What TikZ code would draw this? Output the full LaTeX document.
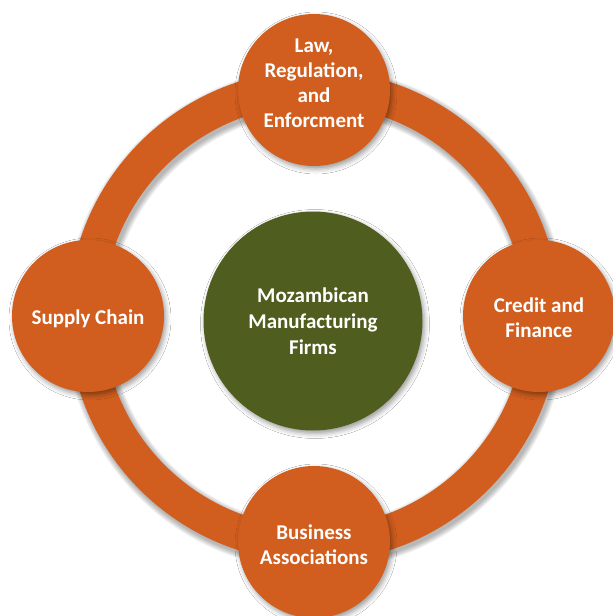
\documentclass[tikz,border=0pt]{standalone}
\usepackage{fontspec}
\setmainfont{Carlito}
\usetikzlibrary{shadows.blur}
\definecolor{ringorange}{RGB}{209,94,30}
\definecolor{hubgreen}{RGB}{79,94,30}
\begin{document}
\begin{tikzpicture}[x=1pt,y=-1pt,
  softshadow/.style={blur shadow={shadow xshift=2pt, shadow yshift=-3pt, shadow blur radius=5pt, shadow opacity=40}},
  labeltext/.style={text=white, font=\bfseries\fontsize{21}{25}\selectfont, align=center},
  spoke/.style={circle, fill=ringorange, minimum size=152pt, inner sep=0pt, labeltext, softshadow},
  hub/.style={circle, fill=hubgreen, minimum size=219pt, inner sep=0pt, labeltext,
    font=\bfseries\fontsize{21}{26}\selectfont, softshadow}]
\useasboundingbox (0,0) rectangle (613,616);
\fill[white] (0,0) rectangle (613,616);
\coordinate (c) at (314,316);
\coordinate (cs) at (316,319);
% ring shadow (soft, layered)
\foreach \w in {36,38,40,42,44,46}{
  \draw[black, opacity=0.05, line width=\w pt] (cs) circle[radius=228.5];
}
% ring
\draw[ringorange, line width=35pt] (c) circle[radius=228.5];
% hub
\node[hub] (firms) at (313,321) {Mozambican\\Manufacturing\\Firms};
% spokes
\node[spoke] (law) at (314,90) {};
\node[labeltext] (lawtext) at (314,83) {Law,\\Regulation,\\and\\Enforcment};
\node[spoke] (supply) at (88,316) {};
\node[labeltext] (supplytext) at (88,319) {Supply Chain};
\node[spoke] (credit) at (539,316) {};
\node[labeltext] (credittext) at (539,318) {Credit and\\Finance};
\node[spoke] (business) at (314,542) {};
\node[labeltext] (bustext) at (314,545) {Business\\Associations};
\end{tikzpicture}
\end{document}
